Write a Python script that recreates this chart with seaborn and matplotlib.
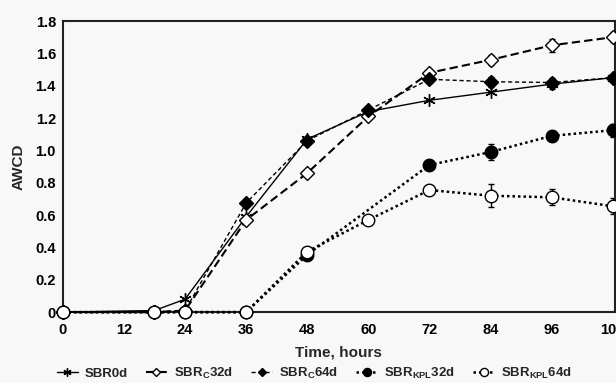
import numpy as np
import pandas as pd
import matplotlib
matplotlib.use("Agg")
import matplotlib.pyplot as plt
import seaborn as sns

# ---- data ----
hours = [0, 18, 24, 36, 48, 60, 72, 84, 96, 108]
sbr0d = [0, 0.01, 0.08, 0.59, 1.07, 1.24, 1.31, 1.36, 1.41, 1.45]
sbrc32d = [0, 0.0, 0.01, 0.57, 0.86, 1.21, 1.48, 1.56, 1.65, 1.70]
sbrc64d = [0, 0.0, 0.01, 0.675, 1.06, 1.25, 1.44, 1.425, 1.42, 1.45]
sbrkpl32d = [0, 0.0, 0.0, 0.0, 0.355, np.nan, 0.91, 0.99, 1.09, 1.125]
sbrkpl64d = [0, 0.0, 0.0, 0.0, 0.375, 0.57, 0.755, 0.72, 0.71, 0.655]

err_sbr0d = [0, 0, 0, 0, 0, 0, 0, 0, 0.03, 0]
err_sbrc32d = [0, 0, 0, 0, 0, 0, 0, 0.03, 0.04, 0.03]
err_sbrc64d = [0, 0, 0, 0, 0, 0, 0.02, 0.03, 0.03, 0.02]
err_sbrkpl32d = [0, 0, 0, 0, 0, 0, 0.03, 0.05, 0.03, 0.04]
err_sbrkpl64d = [0, 0, 0, 0, 0, 0, 0.03, 0.07, 0.05, 0.05]

labels = ["SBR0d", "SBR$_\\mathregular{C}$32d", "SBR$_\\mathregular{C}$64d",
          "SBR$_\\mathregular{KPL}$32d", "SBR$_\\mathregular{KPL}$64d"]
xticks = [0, 12, 24, 36, 48, 60, 72, 84, 96, 108]
yticks = [0, 0.2, 0.4, 0.6, 0.8, 1.0, 1.2, 1.4, 1.6, 1.8]
yticklabels = ["0", "0.2", "0.4", "0.6", "0.8", "1.0", "1.2", "1.4", "1.6", "1.8"]

sns.set_style("white")
plt.rcParams["font.family"] = ["Liberation Sans", "DejaVu Sans"]
plt.rcParams["font.weight"] = "bold"
plt.rcParams["mathtext.fontset"] = "custom"
plt.rcParams["mathtext.rm"] = "Liberation Sans:bold"
plt.rcParams["mathtext.bf"] = "Liberation Sans:bold"
plt.rcParams["mathtext.it"] = "Liberation Sans:bold"

bg = "#f8f8f8"
fig = plt.figure(figsize=(6.16, 3.83), dpi=100, facecolor=bg)
ax = fig.add_axes([0.102, 0.185, 0.896, 0.76], facecolor=bg)

series = [sbr0d, sbrc32d, sbrc64d, sbrkpl32d, sbrkpl64d]
errs = [err_sbr0d, err_sbrc32d, err_sbrc64d, err_sbrkpl32d, err_sbrkpl64d]
styles = [
    dict(marker=(6, 2, 0), markersize=9, markerfacecolor="k", linestyle="-", linewidth=1.0),
    dict(marker="D", markersize=7, markerfacecolor="white", linestyle=(0, (4, 2)), linewidth=1.5),
    dict(marker="D", markersize=7, markerfacecolor="k", linestyle=(0, (3, 2)), linewidth=1.0),
    dict(marker="o", markersize=9, markerfacecolor="k", linestyle=(0, (1, 1.2)), linewidth=1.8),
    dict(marker="o", markersize=9, markerfacecolor="white", linestyle=(0, (1, 1.2)), linewidth=1.8),
]

for vals, err, lab, st in zip(series, errs, labels, styles):
    df = pd.DataFrame({"t": hours, "y": vals, "e": err}).dropna()
    ax.errorbar(df["t"], df["y"], yerr=df["e"].where(df["e"] > 0), fmt="none",
                ecolor="k", elinewidth=1.0, capsize=2.5, capthick=1.0, zorder=2)
    sns.lineplot(data=df, x="t", y="y", ax=ax, color="k", label=lab,
                 markeredgecolor="k", markeredgewidth=1.0, clip_on=False,
                 zorder=3, **st)

ax.set_xlim(0, 108.4)
ax.set_ylim(0, 1.8)
ax.set_xticks(xticks)
ax.set_xticklabels([str(v) for v in xticks])
ax.set_yticks(yticks)
ax.set_yticklabels(yticklabels)
ax.tick_params(direction="in", length=3, width=1, labelsize=10.5, colors="k")
ax.tick_params(axis="x", pad=8)
ax.tick_params(axis="y", pad=5)
for lab_ in ax.get_xticklabels() + ax.get_yticklabels():
    lab_.set_fontweight("bold")
for s in ax.spines.values():
    s.set_linewidth(1.5)
    s.set_color("#222222")

ax.set_xlabel("Time, hours", fontsize=11, fontweight="bold", labelpad=6)
ax.set_ylabel("AWCD", fontsize=11, fontweight="bold", labelpad=7)

ax.legend_.remove()
handles, labs = ax.get_legend_handles_labels()
fig.legend(handles, labs, loc="lower center", bbox_to_anchor=(0.51, -0.025), ncol=5,
           frameon=False, handlelength=1.6, handletextpad=0.5, columnspacing=1.4,
           prop={"weight": "bold", "size": 9.5}, markerscale=0.65)

fig.savefig("out.png", dpi=100, facecolor=bg)
